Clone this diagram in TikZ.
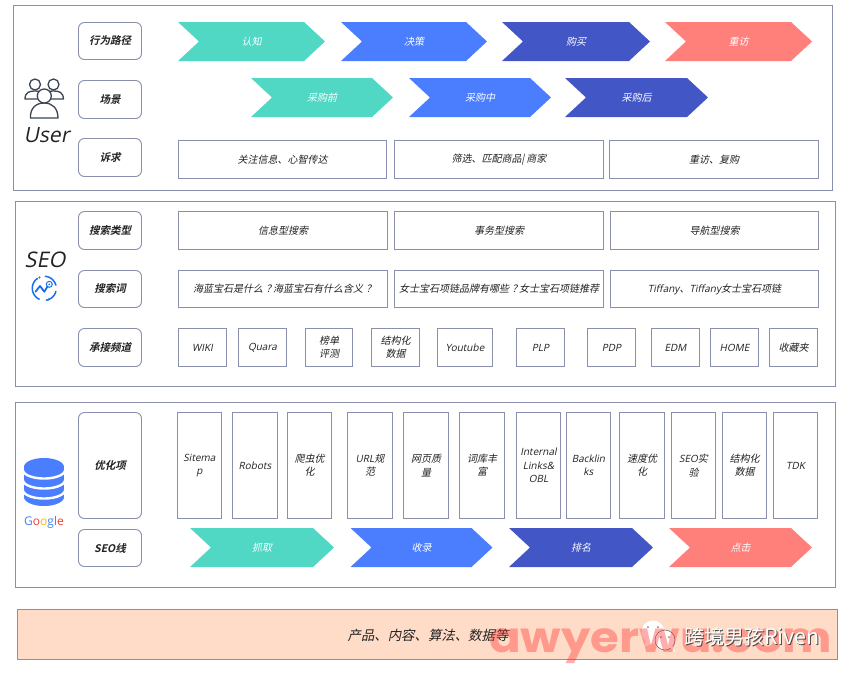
\documentclass[tikz,border=0pt]{standalone}
\usepackage{fontspec}
\usepackage{graphicx}
\setmainfont{Noto Sans CJK SC}[FakeSlant=0.22]
\newfontfamily\labfont{Noto Sans CJK SC Bold}[FakeSlant=0.22]
\newfontfamily\latf{Open Sans}[FakeSlant=0.2]
\newfontfamily\latu{Open Sans}
\newfontfamily\cjku{Noto Sans CJK SC}
\newfontfamily\wmfont{Poppins}
\definecolor{edge}{HTML}{8A8FAB}
\definecolor{teal}{HTML}{50D8C5}
\definecolor{bluea}{HTML}{4A7EFF}
\definecolor{blueb}{HTML}{4256C6}
\definecolor{coral}{HTML}{FF7F7B}
\definecolor{peach}{HTML}{FFDCC8}
\definecolor{ink}{HTML}{222222}
\definecolor{iconink}{HTML}{3A4654}
\definecolor{seoblue}{HTML}{1A6FE8}
\definecolor{gblue}{HTML}{4285F4}
\definecolor{gred}{HTML}{EA4335}
\definecolor{gyel}{HTML}{FBBC05}
\definecolor{ggreen}{HTML}{34A853}
\tikzset{
  x=1pt,y=-1pt,
  panel/.style={draw=edge,line width=1pt,fill=white},
  boxed/.style={draw=edge,line width=.9pt,fill=white,inner sep=0pt,align=center,text=ink,
     font=\fontsize{10}{13.3}\selectfont},
  lab/.style={boxed,rounded corners=6pt,font=\fontsize{10.5}{13}\labfont},
  chevtext/.style={text=white,font=\fontsize{10}{13}\selectfont,inner sep=0pt},
  usericon/.style={draw=iconink,line width=1.3pt,fill=white,line join=round},
}
% name, x1, y1, x2, y2, style, text
\newcommand{\bx}[7]{\node[#6,minimum width=#4pt-#2pt,minimum height=#5pt-#3pt] (#1) at ({(#2+#4)/2},{(#3+#5)/2}) {#7};}
% name, x1, x2, y1, y2, colour, text
\newcommand{\chev}[7]{%
  \fill[#6] (#2,#4) -- ({#3-21},#4) -- (#3,{(#4+#5)/2}) -- ({#3-21},#5) -- (#2,#5) -- ({#2+21},{(#4+#5)/2}) -- cycle;
  \node[chevtext] (#1) at ({(#2+#3)/2},{(#4+#5)/2+.5}) {#7};}
\newcommand{\lt}[1]{{\latf #1}}
\newcommand{\qm}{\hspace{3pt}？\hspace{-3pt}}
\begin{document}
\begin{tikzpicture}
\useasboundingbox (0,0) rectangle (849,675);
\fill[white] (0,0) rectangle (849,675);
% panels
\bx{pUser}{13.5}{5.5}{832}{190}{panel}{}
\bx{pSeo}{15.5}{201.5}{835.7}{386.5}{panel}{}
\bx{pGoo}{15.5}{402.5}{835.7}{587.5}{panel}{}
\bx{pBase}{17.5}{609.5}{837.5}{659.5}{panel,fill=peach}{}
% row labels
\bx{l1}{78.5}{22.5}{141.5}{59.5}{lab}{行为路径}
\bx{l2}{78.5}{80.5}{141.5}{118.5}{lab}{场景}
\bx{l3}{78.5}{138.5}{141.5}{176.5}{lab}{诉求}
\bx{l4}{78.5}{211.5}{141.5}{249.5}{lab}{搜索类型}
\bx{l5}{78.5}{270.5}{141.5}{307.5}{lab}{搜索词}
\bx{l6}{78.5}{328.5}{141.5}{366.5}{lab}{承接频道}
\bx{l7}{78.5}{412.5}{141.5}{518.5}{lab}{优化项}
\bx{l8}{78.5}{529.5}{141.5}{566.5}{lab}{SEO线}
% user chevrons
\chev{c1}{178}{325}{22}{61}{teal}{认知}
\chev{c2}{341}{487}{22}{61}{bluea}{决策}
\chev{c3}{502}{650}{22}{61}{blueb}{购买}
\chev{c4}{665}{812}{22}{61}{coral}{重访}
\chev{c5}{251}{393}{78}{117}{teal}{采购前}
\chev{c6}{409}{551}{78}{117}{bluea}{采购中}
\chev{c7}{565}{708}{78}{117}{blueb}{采购后}
% user demands
\bx{d1}{178.5}{140.5}{386.5}{178.5}{boxed}{关注信息、心智传达}
\bx{d2}{394.5}{140.5}{603.5}{178.5}{boxed}{筛选、匹配商品| 商家}
\bx{d3}{609.5}{140.5}{818.5}{178.5}{boxed}{重访、复购}
% seo types
\bx{t1}{178.5}{211.5}{387.5}{249.5}{boxed}{信息型搜索}
\bx{t2}{394.5}{211.5}{603.5}{249.5}{boxed}{事务型搜索}
\bx{t3}{610.5}{211.5}{818.5}{249.5}{boxed}{导航型搜索}
% seo words
\bx{w1}{178.5}{270.5}{387.5}{307.5}{boxed}{海蓝宝石是什么\qm 海蓝宝石有什么含义\qm}
\bx{w2}{394.5}{270.5}{603.5}{307.5}{boxed}{女士宝石项链品牌有哪些\qm 女士宝石项链推荐}
\bx{w3}{610.5}{270.5}{818.5}{307.5}{boxed}{\lt{Tiffany}、\lt{Tiffany}女士宝石项链}
% channels
\bx{h1}{178.5}{328.5}{226.5}{366.5}{boxed}{\lt{WIKI}}
\bx{h2}{238.5}{328.5}{286.5}{366.5}{boxed}{\lt{Quara}}
\bx{h3}{305.5}{328.5}{352.5}{366.5}{boxed}{榜单\\评测}
\bx{h4}{371.5}{328.5}{419.5}{366.5}{boxed}{结构化\\数据}
\bx{h5}{437.5}{328.5}{492.5}{366.5}{boxed}{\lt{Youtube}}
\bx{h6}{516.5}{328.5}{564.5}{366.5}{boxed}{\lt{PLP}}
\bx{h7}{587.5}{328.5}{635.5}{366.5}{boxed}{\lt{PDP}}
\bx{h8}{651.5}{328.5}{699.5}{366.5}{boxed}{\lt{EDM}}
\bx{h9}{710.5}{328.5}{758.5}{366.5}{boxed}{\lt{HOME}}
\bx{h10}{769.5}{328.5}{817.5}{366.5}{boxed}{收藏夹}
% optimisation items
\bx{o1}{177.5}{412.5}{221.5}{518.5}{boxed}{\lt{Sitema}\\\lt{p}}
\bx{o2}{232.5}{412.5}{277.5}{518.5}{boxed}{\lt{Robots}}
\bx{o3}{287.5}{412.5}{331.5}{518.5}{boxed}{爬虫优\\化}
\bx{o4}{347.5}{412.5}{392.5}{518.5}{boxed}{\lt{URL}规\\范}
\bx{o5}{403.5}{412.5}{448.5}{518.5}{boxed}{网页质\\量}
\bx{o6}{459.5}{412.5}{504.5}{518.5}{boxed}{词库丰\\富}
\bx{o7}{516.5}{412.5}{560.5}{518.5}{boxed}{\lt{Internal}\\\lt{Links\&}\\\lt{OBL}}
\bx{o8}{566.5}{412.5}{610.5}{518.5}{boxed}{\lt{Backlin}\\\lt{ks}}
\bx{o9}{619.5}{412.5}{664.5}{518.5}{boxed}{速度优\\化}
\bx{o10}{671.5}{412.5}{715.5}{518.5}{boxed}{\lt{SEO}实\\验}
\bx{o11}{722.5}{412.5}{766.5}{518.5}{boxed}{结构化\\数据}
\bx{o12}{773.5}{412.5}{817.5}{518.5}{boxed}{\lt{TDK}}
% seo line
\chev{s1}{190}{334}{528}{567}{teal}{抓取}
\chev{s2}{350.5}{492.5}{528}{567}{bluea}{收录}
\chev{s3}{509}{653}{528}{567}{blueb}{排名}
\chev{s4}{669}{812}{528}{567}{coral}{点击}
% user icon
\draw[usericon] (25,99) .. controls (25,92) and (30,91) .. (35,91) .. controls (40,91) and (44,92) .. (45,99) -- cycle;
\draw[usericon] (43,99) .. controls (44,92) and (48,91) .. (53.5,91) .. controls (59,91) and (63,92) .. (63.5,99) -- cycle;
\draw[usericon] (35,84.5) circle (5.5);
\draw[usericon] (53.5,84.5) circle (5.5);
\draw[usericon] (30.5,118) .. controls (30,108) and (36,103) .. (44.3,103) .. controls (52,103) and (58,108) .. (58,118) -- cycle;
\draw[usericon] (44.3,96) circle (7);
\node[text=ink,inner sep=0pt,font=\fontsize{21}{26}\latf] (userT) at (46.5,135) {User};
% seo icon
\node[text=ink,inner sep=0pt,font=\fontsize{21.5}{26}\latf] (seoT) at (45,259.5) {SEO};
\begin{scope}[seoblue,line width=1.5pt,line cap=round]
\draw plot[domain=15:85,samples=16] ({44.3+12*cos(\x)},{288.3-12*sin(\x)});
\draw plot[domain=125:245,samples=24] ({44.3+12*cos(\x)},{288.3-12*sin(\x)});
\draw plot[domain=280:345,samples=16] ({44.3+12*cos(\x)},{288.3-12*sin(\x)});
\draw[line width=1.8pt,line join=round] (35.5,291.7) -- (40,286) -- (44.3,291.7) -- (47.5,286.5);
\draw[line width=1pt] (49.3,284.3) circle (3);
\fill (49.3,284.3) circle (1);
\fill (39.5,277.5) circle (1.1);
\fill (48.5,299.5) circle (1.1);
\end{scope}
% database icon
\fill[bluea] plot[domain=0:360,samples=48] ({44+20*cos(\x)},{467-9*sin(\x)});
\fill[bluea] plot[domain=0:360,samples=48] ({44+20*cos(\x)},{497-9*sin(\x)});
\fill[bluea] (24,467) rectangle (64,497);
\foreach \ys in {470,480,490}{
  \draw[white,line width=2.4pt] plot[domain=180:360,samples=32] ({44+21*cos(\x)},{\ys-8.5*sin(\x)});
}
\node[inner sep=0pt,font=\fontsize{12}{14}\latu] (googleT) at (44,522) {\textcolor{gblue}{G}\textcolor{gred}{o}\textcolor{gyel}{o}\textcolor{gblue}{g}\textcolor{ggreen}{l}\textcolor{gred}{e}};
% base text
\node[text=ink,inner sep=0pt,font=\fontsize{13.4}{16}\selectfont] (baseT) at (428,635) {产品、内容、算法、数据等};
% wechat mark
\fill[white] (653,632) circle (11.5);
\fill[white] (646,641) -- (644,647) -- (652,643) -- cycle;
\draw[iconink,line width=.4pt,fill=white] (665,640) circle (10);
\fill[white] (670,647) -- (675,652) -- (672,645) -- cycle;
\foreach \p/\q in {648/627,658/627,661/637,669/637}{\fill[gray] (\p,\q) circle (1);}
% watermark
\node[inner sep=0pt,anchor=south west,text=red!80!peach,opacity=.38] (wm) at (489,664) {\resizebox*{343pt}{35pt}{\wmfont\bfseries awyerwu.com}};
% account name with its shadow
\node[inner sep=0pt,anchor=west,text=black!70,font=\fontsize{20}{24}\cjku] (acS) at (684.8,637.8) {跨境男孩{\fontsize{21.5}{24}\selectfont Riven}};
\node[inner sep=0pt,anchor=west,text=white,font=\fontsize{20}{24}\cjku] (ac) at (684,637) {跨境男孩{\fontsize{21.5}{24}\selectfont Riven}};
\end{tikzpicture}
\end{document}
